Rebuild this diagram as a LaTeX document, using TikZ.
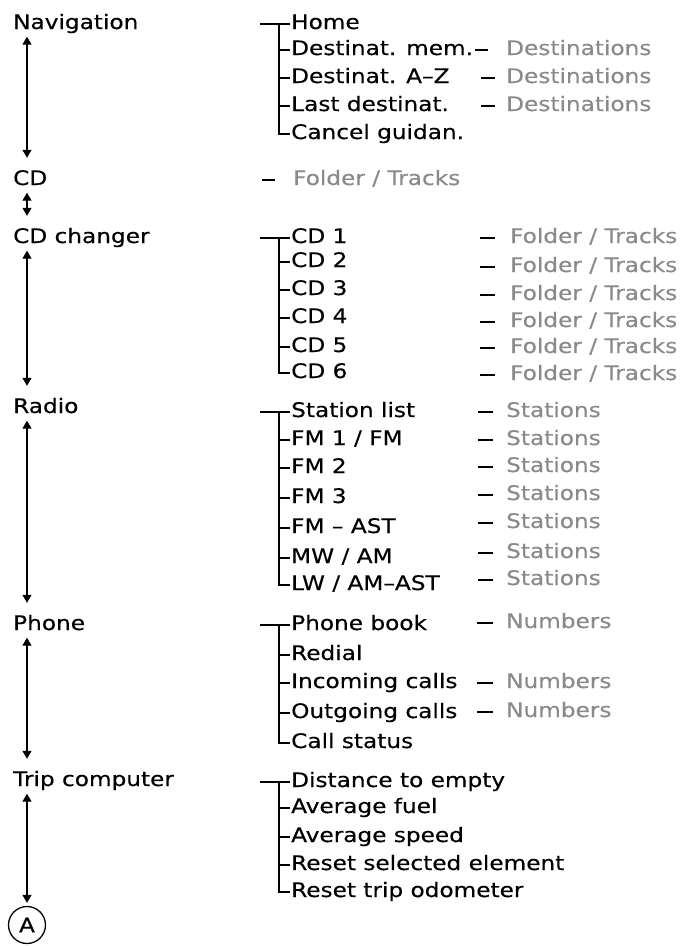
\documentclass[tikz,border=0pt]{standalone}
\usepackage{fontspec}
\setmainfont[FakeStretch=1.16,FakeBold=0.4]{DejaVu Sans}
\usepackage{xcolor}
\usetikzlibrary{arrows.meta,positioning}
\definecolor{subgray}{HTML}{8A8A8A}

\begin{document}
\begin{tikzpicture}[
  x=1pt, y=-1pt,
  txt/.style={inner sep=0pt, anchor=base west, text height=15pt, text depth=5pt, font=\fontsize{20}{22}\selectfont},
  menu/.style={txt},
  item/.style={txt},
  sub/.style={txt, text=subgray},
  tree/.style={line width=1.1pt},
  updown/.style={{Triangle[length=8pt,width=9pt]}-{Triangle[length=8pt,width=9pt]}, line width=1.1pt, shorten <=2.5pt, shorten >=12pt}
]
  \useasboundingbox (0,0) rectangle (690,946);

  % main menu, left column
  \node[menu] (nav) at (13,29) {Navigation};
  \node[menu] (cd) at (13,185) {CD};
  \node[menu] (cdch) at (13,243) {CD changer};
  \node[menu] (radio) at (13,413) {Radio};
  \node[menu] (phone) at (13,630) {Phone};
  \node[menu] (trip) at (13,786) {Trip computer};
  \node[draw, circle, line width=1.3pt, minimum size=37pt, inner sep=0pt, font=\fontsize{20}{22}\selectfont] (A) at (27,925) {A};

  \coordinate (ax) at (27,0);
  \draw[updown] (ax |- nav.south) -- (ax |- cd.north);
  \draw[updown] (ax |- cd.south) -- (ax |- cdch.north);
  \draw[updown] (ax |- cdch.south) -- (ax |- radio.north);
  \draw[updown] (ax |- radio.south) -- (ax |- phone.north);
  \draw[updown] (ax |- phone.south) -- (ax |- trip.north);
  \draw[updown, shorten >=3pt] (ax |- trip.south) -- (A.north);

  % Navigation
  \node[item] (home) at (291,29) {Home};
  \node[item] (mem) at (291,55) {Destinat. mem.};
  \node[item] (az) at (291,83) {Destinat. A–Z};
  \node[item] (lastd) at (291,111) {Last destinat.};
  \node[item] (cancel) at (291,139) {Cancel guidan.};
  \draw[tree] ([xshift=-31pt]home.west) -- ([xshift=-1pt]home.west);
  \draw[tree] ([xshift=-12pt]home.west) |- ([xshift=-1pt]cancel.west);
  \foreach \n in {mem,az,lastd}
    \draw[tree] ([xshift=-12pt]\n.west) -- ([xshift=-1pt]\n.west);

  \node[sub] (d1) at (506,55) {Destinations};
  \node[sub] (d2) at (506,83) {Destinations};
  \node[sub] (d3) at (506,111) {Destinations};
  \draw[tree] ([xshift=-31pt]d1.west) -- ([xshift=-18pt]d1.west);
  \foreach \n in {d2,d3}
    \draw[tree] ([xshift=-25pt]\n.west) -- ([xshift=-11pt]\n.west);

  % CD
  \node[sub] (cdf) at (293,185) {Folder / Tracks};
  \draw[tree] ([xshift=-31pt]cdf.west) -- ([xshift=-18pt]cdf.west);

  % CD changer
  \foreach \i/\y/\fy in {1/243/243, 2/267/272, 3/295/300, 4/323/327, 5/352/353, 6/378/380} {
    \node[item] (c\i) at (291,\y) {CD \i};
    \node[sub] (f\i) at (510,\fy) {Folder / Tracks};
    \draw[tree] ([xshift=-30pt]f\i.west) -- ([xshift=-15pt]f\i.west);
  }
  \draw[tree] ([xshift=-31pt]c1.west) -- ([xshift=-1pt]c1.west);
  \draw[tree] ([xshift=-12pt]c1.west) |- ([xshift=-1pt]c6.west);
  \foreach \n in {c2,c3,c4,c5}
    \draw[tree] ([xshift=-12pt]\n.west) -- ([xshift=-1pt]\n.west);

  % Radio
  \foreach \n/\t/\y/\sy in {st/{Station list}/417/417, fma/{FM 1 / FM}/445/445, fmb/{FM 2}/473/472,
      fmc/{FM 3}/503/500, fmast/{FM – AST}/533/528, mw/{MW / AM}/563/558, lw/{LW / AM–AST}/590/585} {
    \node[item] (\n) at (291,\y) {\t};
    \node[sub] (s\n) at (506,\sy) {Stations};
    \draw[tree] ([xshift=-28pt]s\n.west) -- ([xshift=-13pt]s\n.west);
  }
  \draw[tree] ([xshift=-31pt]st.west) -- ([xshift=-1pt]st.west);
  \draw[tree] ([xshift=-12pt]st.west) |- ([xshift=-1pt]lw.west);
  \foreach \n in {fma,fmb,fmc,fmast,mw}
    \draw[tree] ([xshift=-12pt]\n.west) -- ([xshift=-1pt]\n.west);

  % Phone
  \node[item] (pb) at (291,630) {Phone book};
  \node[item] (redial) at (291,660) {Redial};
  \node[item] (inc) at (291,688) {Incoming calls};
  \node[item] (outg) at (291,718) {Outgoing calls};
  \node[item] (cstat) at (291,748) {Call status};
  \draw[tree] ([xshift=-31pt]pb.west) -- ([xshift=-1pt]pb.west);
  \draw[tree] ([xshift=-12pt]pb.west) |- ([xshift=-1pt]cstat.west);
  \foreach \n in {redial,inc,outg}
    \draw[tree] ([xshift=-12pt]\n.west) -- ([xshift=-1pt]\n.west);

  \node[sub] (n1) at (506,628) {Numbers};
  \node[sub] (n2) at (506,688) {Numbers};
  \node[sub] (n3) at (506,717) {Numbers};
  \foreach \n in {n1,n2,n3}
    \draw[tree] ([xshift=-29pt]\n.west) -- ([xshift=-13pt]\n.west);

  % Trip computer
  \node[item] (dist) at (291,787) {Distance to empty};
  \node[item] (avfuel) at (291,813) {Average fuel};
  \node[item] (avspeed) at (291,842) {Average speed};
  \node[item] (rsel) at (291,870) {Reset selected element};
  \node[item] (rtrip) at (291,897) {Reset trip odometer};
  \draw[tree] ([xshift=-31pt]dist.west) -- ([xshift=-1pt]dist.west);
  \draw[tree] ([xshift=-12pt]dist.west) |- ([xshift=-1pt]rtrip.west);
  \foreach \n in {avfuel,avspeed,rsel}
    \draw[tree] ([xshift=-12pt]\n.west) -- ([xshift=-1pt]\n.west);
\end{tikzpicture}
\end{document}
